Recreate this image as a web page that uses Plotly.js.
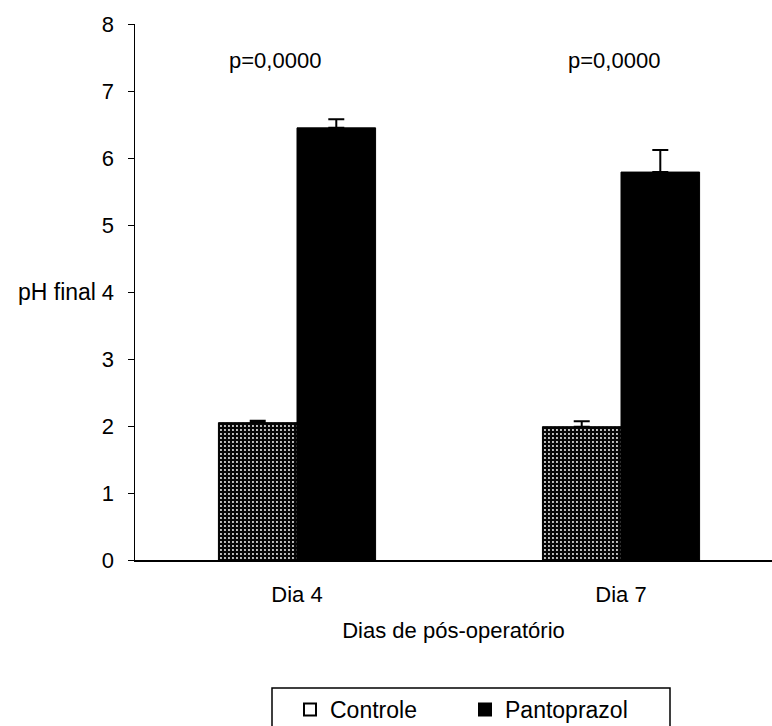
<!DOCTYPE html>
<html>
<head>
<meta charset="utf-8">
<script src="https://cdn.plot.ly/plotly-3.0.1.min.js"></script>
<style>html,body{margin:0;padding:0;background:#fff;}#chart{width:772px;height:726px;}</style>
</head>
<body>
<div id="chart"></div>
<script>
const categories = ['Dia 4', 'Dia 7'];
const controle = [2.05, 1.99];
const controleErr = [0.03, 0.08];
const pantoprazol = [6.45, 5.79];
const pantoprazolErr = [0.13, 0.33];
const pLabels = ['p=0,0000', 'p=0,0000'];
const pShift = [-22, -7];
const yTicks = [0, 1, 2, 3, 4, 5, 6, 7, 8];

const FONT = 'Liberation Sans, Arial, sans-serif';
const L = 135, T = 24, W = 637, H = 536;

const traces = [
  {
    type: 'bar', name: 'Controle', x: categories, y: controle, showlegend: false,
    marker: {
      color: '#111',
      line: {color: '#000', width: 1},
      pattern: {shape: '.', fgcolor: '#fff', bgcolor: '#050505', size: 4, solidity: 0.18}
    },
    error_y: {type: 'data', symmetric: false, array: controleErr, arrayminus: [0, 0],
              color: '#000', thickness: 2, width: 8}
  },
  {
    type: 'bar', name: 'Pantoprazol', x: categories, y: pantoprazol, showlegend: false,
    marker: {color: '#000', line: {color: '#000', width: 1}},
    error_y: {type: 'data', symmetric: false, array: pantoprazolErr, arrayminus: [0, 0],
              color: '#000', thickness: 2, width: 8}
  },
  // legend-only entries (drawn on hidden overlay axes)
  {type: 'bar', name: 'Controle', x: [null], y: [null], xaxis: 'x2', yaxis: 'y2',
   marker: {color: '#fff', line: {color: '#000', width: 2}}},
  {type: 'bar', name: 'Pantoprazol', x: [null], y: [null], xaxis: 'x2', yaxis: 'y2',
   marker: {color: '#000', line: {color: '#000', width: 2}}}
];

const annotations = pLabels.map((t, i) => ({
  text: t, x: categories[i], y: 7.45, xref: 'x', yref: 'y', xshift: pShift[i],
  showarrow: false, font: {family: FONT, size: 22, color: '#000'}
}));
annotations.push({
  text: 'pH final', xref: 'paper', yref: 'y', x: 0, y: 4, xanchor: 'right', xshift: -37,
  showarrow: false, font: {family: FONT, size: 23, color: '#000'}
});

const layout = {
  width: 772, height: 726,
  margin: {l: L, r: 0, t: T, b: 726 - T - H, autoexpand: false},
  paper_bgcolor: '#fff', plot_bgcolor: '#fff',
  font: {family: FONT, size: 22, color: '#000'},
  barmode: 'group', bargap: 0.515, bargroupgap: 0,
  xaxis: {
    type: 'category', range: [-0.5, 1.466], showgrid: false, zeroline: false,
    showline: true, linecolor: '#000', linewidth: 1.5, ticks: '',
    ticklabelstandoff: 14, tickfont: {family: FONT, size: 22, color: '#000'},
    title: {text: 'Dias de pós-operatório', standoff: 16, font: {family: FONT, size: 22, color: '#000'}}
  },
  yaxis: {
    range: [0, 8], tickvals: yTicks, showgrid: false, zeroline: false,
    showline: true, linecolor: '#000', linewidth: 1.5, ticks: 'outside', ticklen: 6,
    tickcolor: '#000', tickwidth: 1, ticklabelstandoff: 9,
    tickfont: {family: FONT, size: 22, color: '#000'}
  },
  xaxis2: {overlaying: 'x', visible: false, range: [0, 1]},
  yaxis2: {overlaying: 'y', visible: false, range: [0, 1]},
  showlegend: true,
  legend: {
    orientation: 'h', x: (290 - L) / W, xanchor: 'left', y: (T + H - 688) / H, yanchor: 'top',
    borderwidth: 0, bgcolor: 'rgba(0,0,0,0)',
    font: {family: FONT, size: 23, color: '#000'}, entrywidth: 130,
    traceorder: 'normal'
  },
  shapes: [{
    type: 'rect', xref: 'paper', yref: 'paper',
    x0: (272 - L) / W, x1: (670 - L) / W, y0: (T + H - 688) / H, y1: (T + H - 760) / H,
    line: {color: '#000', width: 1.5}, fillcolor: 'rgba(0,0,0,0)'
  }],
  annotations: annotations
};

Plotly.newPlot('chart', traces, layout, {displayModeBar: false, staticPlot: true});
</script>
</body>
</html>
